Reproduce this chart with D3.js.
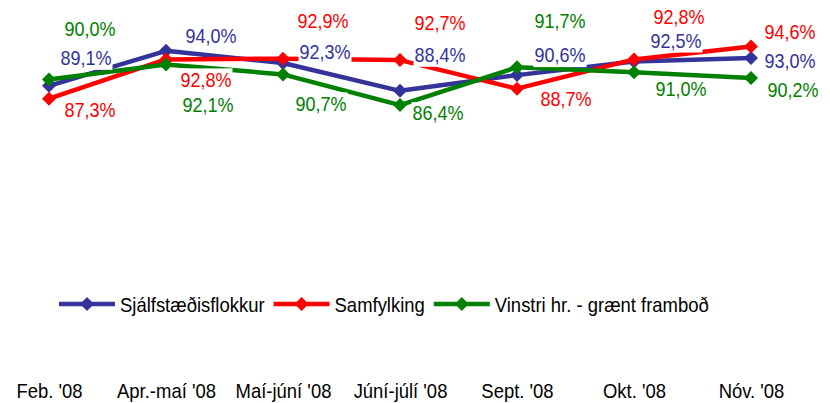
<!DOCTYPE html>
<html>
<head>
<meta charset="utf-8">
<script src="https://cdn.jsdelivr.net/npm/d3@7"></script>
<style>
  html, body { margin: 0; padding: 0; background: #fff; }
  svg { display: block; font-family: "Liberation Sans", Arial, sans-serif; }
</style>
</head>
<body>
<svg id="chart" width="830" height="403"></svg>
<script>
// ---- data ----
const categories = ["Feb. '08", "Apr.-maí '08", "Maí-júní '08", "Júní-júlí '08", "Sept. '08", "Okt. '08", "Nóv. '08"];
const seriesNames = ["Sjálfstæðisflokkur", "Samfylking", "Vinstri hr. - grænt framboð"];
const sjalfstaedis = [89.1, 94.0, 92.3, 88.4, 90.6, 92.5, 93.0];
const samfylking   = [87.3, 92.8, 92.9, 92.7, 88.7, 92.8, 94.6];
const vinstriGraen = [90.0, 92.1, 90.7, 86.4, 91.7, 91.0, 90.2];

// ---- styling / layout ----
const colors = ["#333399", "#ff0000", "#008000"];
// label offsets (dx, dy) relative to each point — layout only
const labelOffsets = [
  [[37,-28],[45,-15],[42,-11],[40,-36],[43,-20],[42,-21],[39,3]],
  [[41,11],[40,20],[40,-38],[40,-37],[49,10],[45,-43],[39,-15]],
  [[41,-51],[42,40],[38,29],[38,8],[43,-46],[47,17],[42,12]]
];
const SX = 0.9; // horizontal condensing of text

const seriesValues = [sjalfstaedis, samfylking, vinstriGraen];
const svg = d3.select("#chart");

const x = d3.scalePoint().domain(categories).range([49, 751]);
const y = d3.scaleLinear().domain([50, 100]).range([365, 8]);

const locale = d3.formatLocale({decimal: ",", thousands: ".", grouping: [3], currency: ["", ""]});
const fmt = v => locale.format(".1f")(v) + "%";

function diamondPath(r) {
  return `M0,${-r}L${r},0L0,${r}L${-r},0Z`;
}

const line = d3.line()
  .x((d, i) => x(categories[i]))
  .y(d => y(d));

// lines & markers
seriesValues.forEach((vals, s) => {
  const g = svg.append("g");
  g.append("path")
    .datum(vals)
    .attr("d", line)
    .attr("fill", "none")
    .attr("stroke", colors[s])
    .attr("stroke-width", 4.5)
    .attr("stroke-linejoin", "round");
  g.selectAll("path.m")
    .data(vals)
    .join("path")
    .attr("class", "m")
    .attr("transform", (d, i) => `translate(${x(categories[i])},${y(d)})`)
    .attr("d", diamondPath(7))
    .attr("fill", colors[s]);
});

// data labels with white boxes
const labelSize = 20;
seriesValues.forEach((vals, s) => {
  vals.forEach((v, i) => {
    const cx = x(categories[i]) + labelOffsets[s][i][0];
    const cy = y(v) + labelOffsets[s][i][1];
    const g = svg.append("g");
    const rect = g.append("rect").attr("fill", "#fff");
    const t = g.append("text")
      .attr("transform", `translate(${cx},${cy + 7.2}) scale(${SX},1)`)
      .attr("text-anchor", "middle")
      .attr("font-size", labelSize)
      .attr("fill", colors[s])
      .text(fmt(v));
    const w = t.node().getComputedTextLength() * SX;
    rect.attr("x", cx - w / 2 - 1).attr("y", cy - 11).attr("width", w + 2).attr("height", 23);
  });
});

// x axis (labels only)
const xAxis = d3.axisBottom(x).tickSize(0).tickPadding(0);
const ax = svg.append("g").attr("transform", "translate(0,398)").call(xAxis);
ax.select(".domain").remove();
ax.selectAll("text")
  .attr("font-size", 20.5)
  .attr("font-family", "'Liberation Sans', Arial, sans-serif")
  .attr("fill", "#000")
  .attr("dy", "0")
  .attr("y", 0)
  .attr("transform", `scale(${SX},1)`);

// legend
const legend = svg.append("g");
let lx = 59;
const ly = 304;
seriesNames.forEach((name, s) => {
  legend.append("line")
    .attr("x1", lx).attr("x2", lx + 56)
    .attr("y1", ly).attr("y2", ly)
    .attr("stroke", colors[s]).attr("stroke-width", 4.5);
  legend.append("path")
    .attr("transform", `translate(${lx + 28},${ly})`)
    .attr("d", diamondPath(7))
    .attr("fill", colors[s]);
  const t = legend.append("text")
    .attr("transform", `translate(${lx + 61},${ly + 7.5}) scale(${SX},1)`)
    .attr("font-size", 20.5)
    .attr("fill", "#000")
    .text(name);
  lx = lx + 61 + t.node().getComputedTextLength() * SX + 9;
});
</script>
</body>
</html>
